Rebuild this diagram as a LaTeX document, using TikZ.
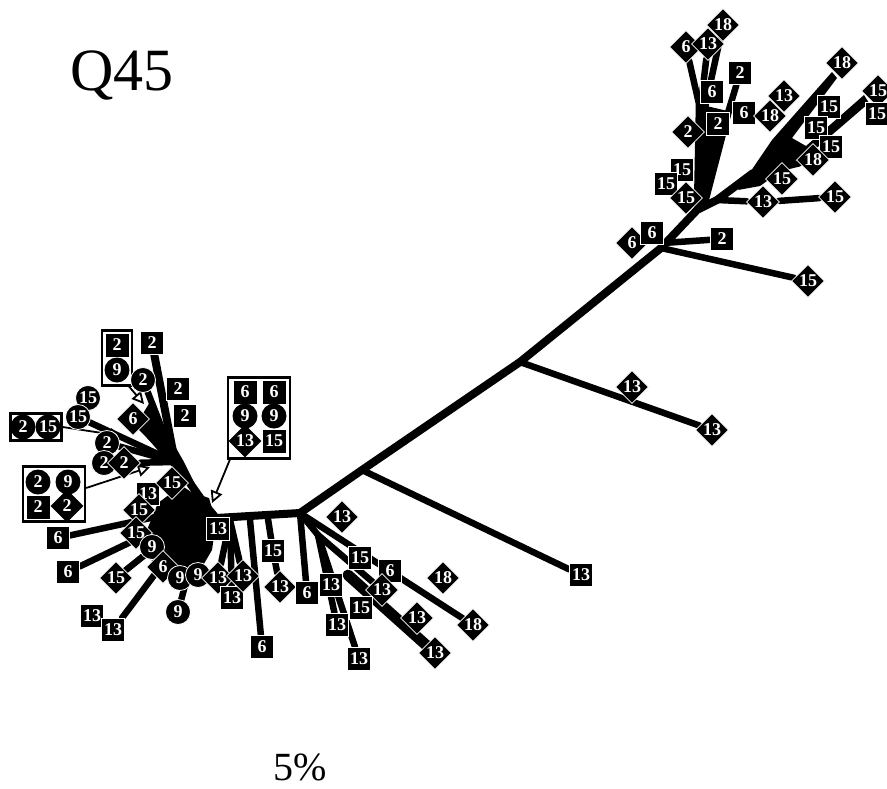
\documentclass[tikz,border=0pt]{standalone}
\usepackage{fontspec}
\setmainfont{Liberation Serif}
\usetikzlibrary{shapes.geometric,arrows.meta,backgrounds}

\tikzset{
  leaf/.style={text=white, fill=black, draw=white, line width=0.8, inner sep=0, font=\fontsize{18}{18}\selectfont\bfseries},
  sqleaf/.style={leaf, rectangle, minimum size=23},
  dileaf/.style={leaf, diamond, minimum size=33},
  cileaf/.style={leaf, circle, minimum size=25},
  trunk/.style={line width=8, line cap=round, line join=round},
  twig/.style={line width=6.5, line cap=round, line join=round},
  grpbox/.style={draw=black, fill=white, line width=2.2, inner sep=0},
  ptr/.style={line width=1.8, -{Triangle[fill=white, length=12, width=12]}}
}

\begin{document}
\begin{tikzpicture}[x=1pt,y=1pt,yscale=-1]
\path[use as bounding box] (0,0) rectangle (887,788);

% Titles
\node[font=\fontsize{60}{60}\selectfont] (title) at (122,75) {Q45};
\node[font=\fontsize{40}{40}\selectfont] (scale) at (300,767) {5\%};

% Junctions of the tree
\coordinate (hub) at (206,506);
\coordinate (j0) at (216,518);
\coordinate (j1) at (300,513);
\coordinate (j2) at (362,470);
\coordinate (j3) at (520,362);
\coordinate (j4) at (661,248);
\coordinate (j5) at (697,210);
\coordinate (j6) at (717,200);
\coordinate (j7) at (753,173);
\coordinate (ulj) at (175,462);
\coordinate (bm0) at (230,520);
\coordinate (bm1) at (250,520);
\coordinate (bm2) at (268,519);
\coordinate (dj) at (318,535);

% Group boxes
\node[grpbox, minimum width=30, minimum height=55] (grpA) at (117,358) {};
\node[grpbox, minimum width=51, minimum height=27] (grpB) at (36,427) {};
\node[grpbox, minimum width=62, minimum height=55] (grpC) at (54,494) {};
\node[grpbox, minimum width=62, minimum height=81] (grpD) at (259,418) {};

% Pointers
\coordinate (pA) at (144,404);
\coordinate (pB) at (122,436);
\coordinate (pC) at (150,467);
\coordinate (pD) at (212,503);
\draw[ptr] (grpA.south east) ++(-4,0) -- (pA);
\draw[ptr] (grpB.east) -- (pB);
\draw[ptr] (grpC.east) ++(0,-6) -- (pC);
\draw[ptr] (grpD.south west) ++(3,0) -- (pD);

% Leaves: right part
\node[sqleaf] (r13a) at (581,575) {13};
\node[dileaf] (r13b) at (632,387) {13};
\node[dileaf] (r13c) at (712,430) {13};
\node[dileaf] (r15a) at (808,281) {15};
\node[sqleaf] (r2a) at (722,239) {2};
\node[dileaf] (r6a) at (632,243) {6};
\node[sqleaf] (r6b) at (652,233) {6};

% Leaves: top fan
\node[dileaf] (t6a) at (686,47) {6};
\node[dileaf] (t18a) at (723,25) {18};
\node[dileaf] (t13a) at (708,44) {13};
\node[sqleaf] (t6b) at (712,92) {6};
\node[sqleaf] (t2a) at (740,73) {2};
\node[sqleaf] (t6c) at (744,113) {6};
\node[dileaf] (t2c) at (688,132) {2};
\node[sqleaf] (t2b) at (718,124) {2};
\node[sqleaf] (t15a) at (682,170) {15};
\node[sqleaf] (t15b) at (666,184) {15};
\node[dileaf] (t15c) at (686,198) {15};

% Leaves: right cluster
\node[dileaf] (q18a) at (842,63) {18};
\node[dileaf] (q15a) at (878,91) {15};
\node[sqleaf] (q15b) at (877,114) {15};
\node[dileaf] (q13a) at (784,96) {13};
\node[dileaf] (q18b) at (770,116) {18};
\node[sqleaf] (q15c) at (829,107) {15};
\node[sqleaf] (q15d) at (816,128) {15};
\node[sqleaf] (q15e) at (831,147) {15};
\node[dileaf] (q18c) at (813,160) {18};
\node[dileaf] (q15f) at (782,179) {15};
\node[dileaf] (q13b) at (763,202) {13};
\node[dileaf] (q15g) at (835,197) {15};

% Leaves: upper left fan
\node[sqleaf] (u2a) at (152,343) {2};
\node[sqleaf, draw=none] (a2) at (117,345) {2};
\node[cileaf, draw=none] (a9) at (117,370) {9};
\node[cileaf] (u2b) at (143,380) {2};
\node[sqleaf] (u2c) at (178,389) {2};
\node[sqleaf] (u2d) at (185,416) {2};
\node[dileaf] (u6) at (133,419) {6};
\node[cileaf] (u15a) at (88,398) {15};
\node[cileaf] (u15b) at (78,417) {15};
\node[cileaf, draw=none] (b2) at (23,427) {2};
\node[cileaf, draw=none] (b15) at (48,427) {15};
\node[cileaf] (u2e) at (107,443) {2};
\node[cileaf] (u2f) at (104,463) {2};
\node[dileaf] (u2g) at (124,463) {2};
\node[cileaf, draw=none] (c2) at (38,482) {2};
\node[cileaf, draw=none] (c9) at (68,482) {9};
\node[sqleaf, draw=none] (c2s) at (38,507) {2};
\node[dileaf, draw=none] (c2d) at (67,506) {2};

% Leaves: lower left fan
\node[sqleaf] (l13a) at (148,494) {13};
\node[dileaf] (l15a) at (172,483) {15};
\node[dileaf] (l15b) at (139,510) {15};
\node[sqleaf] (l6a) at (58,538) {6};
\node[dileaf] (l15c) at (136,533) {15};
\node[cileaf] (l9a) at (152,547) {9};
\node[sqleaf] (l6b) at (68,572) {6};
\node[dileaf] (l15d) at (116,578) {15};
\node[dileaf] (l6c) at (163,567) {6};
\node[cileaf] (l9b) at (180,578) {9};
\node[cileaf] (l9c) at (198,575) {9};
\node[cileaf] (l9d) at (178,612) {9};
\node[sqleaf] (l13b) at (92,616) {13};
\node[sqleaf] (l13c) at (113,630) {13};
\node[sqleaf] (l13d) at (218,529) {13};
\node[dileaf] (l13e) at (218,578) {13};
\node[sqleaf] (l13g) at (232,598) {13};
\node[dileaf] (l13f) at (243,576) {13};

% Leaves: box D
\node[sqleaf, draw=none] (d6a) at (245,392) {6};
\node[sqleaf, draw=none] (d6b) at (274,392) {6};
\node[cileaf, draw=none] (d9a) at (245,416) {9};
\node[cileaf, draw=none] (d9b) at (274,416) {9};
\node[dileaf, draw=none] (d13) at (245,441) {13};
\node[sqleaf, draw=none] (d15) at (274,441) {15};

% Leaves: lower middle
\node[sqleaf] (m6a) at (262,647) {6};
\node[sqleaf] (m15a) at (273,551) {15};
\node[dileaf] (m13a) at (280,587) {13};
\node[sqleaf] (m6b) at (307,593) {6};
\node[dileaf] (m13b) at (342,517) {13};
\node[sqleaf] (m13c) at (331,585) {13};
\node[sqleaf] (m15b) at (360,558) {15};
\node[sqleaf] (m6c) at (390,571) {6};
\node[dileaf] (m13d) at (382,590) {13};
\node[sqleaf] (m15c) at (361,608) {15};
\node[sqleaf] (m13e) at (337,625) {13};
\node[sqleaf] (m13f) at (359,659) {13};
\node[dileaf] (m13g) at (417,618) {13};
\node[dileaf] (m13h) at (435,653) {13};
\node[dileaf] (m18a) at (443,578) {18};
\node[dileaf] (m18b) at (473,625) {18};

\begin{pgfonlayer}{background}
% backbone
\draw[trunk] (hub) -- (j0) -- (j1) -- (j2) -- (j3) -- (j4) -- (j5) -- (j6) -- (j7);
% right part
\draw[twig] (j2) -- (r13a);
\draw[twig] (j3) -- (r13c);
\draw[twig] (j4) -- (r15a);
\draw[twig] (j4) ++(2,-5) -- (r2a);
% top fan
\fill (694,208) -- (698,104) -- (732,112) -- (707,208) -- cycle;
\draw[twig] (j5) -- (699,104) -- (t6a);
\draw[twig] (701,104) -- (t13a);
\draw[twig] (705,108) -- (t18a);
\draw[twig] (727,116) -- (t2a);
% right cluster
\fill (738,190) -- (772,140) -- (832,72) -- (837,78) -- (792,138) -- (806,146) -- (864,95) -- (869,103) -- (812,152) -- (795,161) -- (760,186) -- cycle;
\draw[twig] (j6) -- (q13b) -- (q15g);
\draw[twig] (788,166) -- (q18c);
% left hub
\fill (209,498) -- (216,522) -- (212,550) -- (198,574) -- (172,580) -- (152,562) -- (147,530) -- (158,503) -- (178,488) -- cycle;
\fill (hub) -- (136,425) -- (150,402) -- (184,462) -- cycle;
\draw[trunk] (hub) -- (ulj) -- (u2a);
\draw[twig] (ulj) -- (u2b);
\draw[twig] (ulj) -- (u6);
\draw[twig] (ulj) -- (u15b);
\draw[twig] (ulj) -- (u2e);
\draw[twig] (ulj) -- (u2g);
\draw[twig] (hub) -- (l15a);
\draw[twig] (hub) -- (l6a);
\draw[twig] (hub) -- (l6b);
\draw[twig] (hub) -- (l15d);
\draw[twig] (hub) -- (l13c);
\draw[twig] (hub) -- (l9d);
\draw[twig] (bm0) -- (l13e);
\draw[twig] (bm0) -- (l13g);
\draw[twig] (bm0) -- (l13f);
% lower middle
\draw[twig] (bm1) -- (m6a);
\draw[twig] (bm2) -- (m15a) -- (m13a);
\draw[twig] (j1) -- (m6b);
\draw[twig] (j1) -- (m18b);
\draw[twig] (j1) -- (dj);
\draw[twig] (dj) -- (m13e);
\draw[twig] (dj) -- (m13f);
\draw[twig] (dj) -- (m13d);
\draw[line width=11, line cap=round] (dj) ++(30,40) -- (m13h);
\end{pgfonlayer}

\end{tikzpicture}
\end{document}
